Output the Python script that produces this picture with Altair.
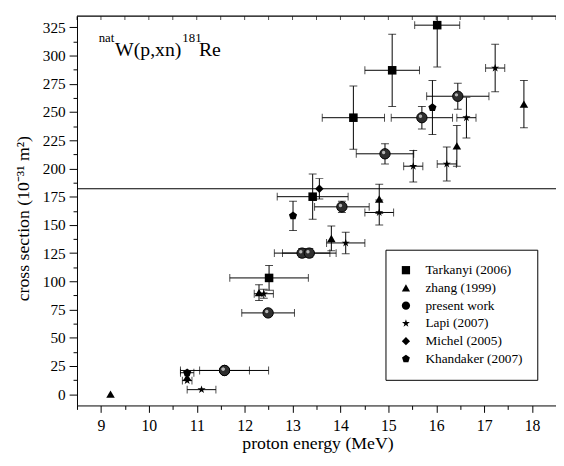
import altair as alt
import pandas as pd

FONT = "Liberation Serif"

series_names = ["Tarkanyi (2006)", "zhang (1999)", "present work",
                "Lapi (2007)", "Michel (2005)", "Khandaker (2007)"]

# Tarkanyi (2006) - squares
tark_E = [12.51, 13.42, 14.27, 15.08, 16.02]
tark_v = [103, 175, 245, 287, 327]
tark_xe = [0.82, 0.74, 0.65, 0.57, 0.47]
tark_ye = [11, 20, 28, 32, 37]

# zhang (1999) - triangles
zhang_E = [9.2, 10.8, 12.3, 13.81, 14.81, 16.43, 17.83]
zhang_v = [0, 15, 90, 138, 173, 220, 257]
zhang_xe = [0, 0, 0, 0, 0, 0, 0]
zhang_ye = [0, 0, 7, 11, 13, 18, 21]

# present work - circles
pw_E = [11.58, 11.58, 12.49, 13.2, 13.35, 14.03, 14.93, 15.7, 16.45]
pw_v = [21, 21, 72, 125, 125, 166, 213, 245, 264]
pw_xe = [0.92, 0.52, 0.55, 0.58, 0.56, 0.57, 0.6, 0.64, 0.65]
pw_ye = [2, 2, 3, 4, 4, 5, 9, 10, 11.5]

# Lapi (2007) - stars
lapi_E = [10.8, 11.1, 12.4, 14.11, 14.81, 15.52, 16.22, 16.63, 17.23]
lapi_v = [12, 4, 89, 134, 161, 202, 204, 245, 289]
lapi_xe = [0.1, 0.3, 0.2, 0.4, 0.3, 0.2, 0.2, 0.2, 0.2]
lapi_ye = [0, 0, 4, 9.5, 11, 14, 15, 18, 21]

# Michel (2005) - diamonds
michel_E = [13.56]
michel_v = [182]
michel_xe = [0]
michel_ye = [9]

# Khandaker (2007) - pentagons
khan_E = [10.8, 13.01, 15.92]
khan_v = [19, 158, 254]
khan_xe = [0.14, 0, 0]
khan_ye = [0, 13, 24]

hline_value = [182]

x_ticks = [8.5 + 0.5 * i for i in range(21)]
y_ticks = [12.5 * i for i in range(27)]

STAR = ("M0,-1 L0.2245,-0.309 L0.951,-0.309 L0.363,0.118 L0.588,0.809 "
        "L0,0.382 L-0.588,0.809 L-0.363,0.118 L-0.951,-0.309 L-0.2245,-0.309 Z")
PENT = "M0,-1 L0.951,-0.309 L0.588,0.809 L-0.588,0.809 L-0.951,-0.309 Z"
shapes = ["square", "triangle-up", "circle", STAR, "diamond", PENT]

rows = []
for name, E, V, XE, YE in [
    (series_names[0], tark_E, tark_v, tark_xe, tark_ye),
    (series_names[1], zhang_E, zhang_v, zhang_xe, zhang_ye),
    (series_names[2], pw_E, pw_v, pw_xe, pw_ye),
    (series_names[3], lapi_E, lapi_v, lapi_xe, lapi_ye),
    (series_names[4], michel_E, michel_v, michel_xe, michel_ye),
    (series_names[5], khan_E, khan_v, khan_xe, khan_ye),
]:
    for e, v, xe, ye in zip(E, V, XE, YE):
        rows.append(dict(series=name, E=e, v=v, xe=xe, ye=ye,
                         xlo=e - xe, xhi=e + xe, ylo=v - ye, yhi=v + ye))
df = pd.DataFrame(rows)

xs = alt.Scale(domain=[8.5, 18.5], nice=False, zero=False)
ys = alt.Scale(domain=[-10, 335], nice=False, zero=False)

common_axis = dict(domainColor="black", tickColor="black", labelColor="black",
                   labelFont=FONT, titleFont=FONT, titleFontWeight="normal",
                   titleColor="black", grid=False, domainWidth=1, tickWidth=1,
                   labelOverlap=False, labelFlush=False)

xaxis = alt.Axis(values=x_ticks,
                 labelExpr="datum.value % 1 === 0 ? format(datum.value, 'd') : ''",
                 tickSize={"condition": {"test": "datum.value % 1 === 0", "value": 7}, "value": 4},
                 labelFontSize=16, labelPadding=5,
                 title="proton energy (MeV)", titleFontSize=18,
                 titleX=244, titleY=44, titleBaseline="alphabetic", titleAlign="center",
                 **common_axis)
yaxis = alt.Axis(values=y_ticks,
                 labelExpr="datum.value % 25 === 0 ? format(datum.value, 'd') : ''",
                 tickSize={"condition": {"test": "datum.value % 25 === 0", "value": 8}, "value": 4},
                 labelFontSize=15.5, labelPadding=4,
                 title="cross section (10⁻³¹ m²)", titleFontSize=18,
                 titleX=-49, titleY=205, titleAngle=270, titleBaseline="alphabetic",
                 titleAlign="center", **common_axis)


def X(field):
    return alt.X(field, scale=xs, axis=xaxis)


def Y(field):
    return alt.Y(field, scale=ys, axis=yaxis)


base = alt.Chart(df)

hline = alt.Chart(pd.DataFrame({"h": hline_value})).mark_rule(
    color="black", strokeWidth=1.2).encode(y=Y("h:Q"))

top_frame = alt.Chart(pd.DataFrame({"h": [0]})).mark_rule(
    color="black", strokeWidth=1.2).encode(y=alt.value(0))

top_ticks = alt.Chart(pd.DataFrame({"t": x_ticks})).mark_tick(
    orient="vertical", color="black", size=4, thickness=1).encode(
    x=X("t:Q"), y=alt.value(2))

xb = base.transform_filter("datum.xe > 0")
xbars = xb.mark_rule(color="black", strokeWidth=1, clip=True).encode(
    x=X("xlo:Q"), x2="xhi:Q", y=Y("v:Q"))
xcap_lo = xb.mark_tick(orient="vertical", color="black", size=8, thickness=1,
                       clip=True).encode(x=X("xlo:Q"), y=Y("v:Q"))
xcap_hi = xb.mark_tick(orient="vertical", color="black", size=8, thickness=1,
                       clip=True).encode(x=X("xhi:Q"), y=Y("v:Q"))

yb = base.transform_filter("datum.ye > 0")
ybars = yb.mark_rule(color="black", strokeWidth=1, clip=True).encode(
    x=X("E:Q"), y=Y("ylo:Q"), y2="yhi:Q")
ycap_lo = yb.mark_tick(orient="horizontal", color="black", size=8, thickness=1,
                       clip=True).encode(x=X("E:Q"), y=Y("ylo:Q"))
ycap_hi = yb.mark_tick(orient="horizontal", color="black", size=8, thickness=1,
                       clip=True).encode(x=X("E:Q"), y=Y("yhi:Q"))

points = base.mark_point(filled=True, opacity=1, color="black", size=75).encode(
    x=X("E:Q"),
    y=Y("v:Q"),
    shape=alt.Shape("series:N", scale=alt.Scale(domain=series_names, range=shapes),
                    legend=alt.Legend(title=None, orient="none", legendX=313, legendY=237,
                                      strokeColor="black", fillColor="white", padding=14,
                                      labelFont=FONT, labelFontSize=13.5, labelColor="black",
                                      symbolSize=70, symbolFillColor="black",
                                      symbolStrokeColor="black", symbolStrokeWidth=0,
                                      rowPadding=3, labelOffset=13, cornerRadius=0)),
)

pw_big = base.transform_filter(alt.datum.series == "present work").mark_circle(
    color="#2e2e2e", size=110, opacity=1, stroke="black", strokeWidth=1).encode(
    x=X("E:Q"), y=Y("v:Q"))

highlight = base.transform_filter(alt.datum.series == "present work").mark_circle(
    color="#b5b5b5", size=12, opacity=1, xOffset=-1.4, yOffset=-1.4).encode(
    x=X("E:Q"), y=Y("v:Q"))

# reaction label
big_text = ["W(p,xn)", "Re"]
big_x = [9.296, 11.045]
big_y = [300, 300]
sup_text = ["nat", "181"]
sup_x = [8.953, 10.70]
sup_y = [311.7, 311.7]

label_big = alt.Chart(pd.DataFrame({"t": big_text, "x": big_x, "y": big_y})).mark_text(
    font=FONT, fontSize=20, align="left", baseline="alphabetic", color="black").encode(
    x=X("x:Q"), y=Y("y:Q"), text="t:N")
label_sup = alt.Chart(pd.DataFrame({"t": sup_text, "x": sup_x, "y": sup_y})).mark_text(
    font=FONT, fontSize=13, align="left", baseline="alphabetic", color="black").encode(
    x=X("x:Q"), y=Y("y:Q"), text="t:N")

chart = alt.layer(hline, top_frame, top_ticks, xbars, xcap_lo, xcap_hi,
                  ybars, ycap_lo, ycap_hi, points, pw_big, highlight,
                  label_big, label_sup).properties(
    width=486, height=395,
    autosize=alt.AutoSizeParams(type="none"),
    padding={"left": 70, "top": 5, "right": 0, "bottom": 45},
    background="white",
).configure(font=FONT).configure_view(stroke=None).configure_axis(
    labelFont=FONT, titleFont=FONT
).configure_legend(
    labelFont=FONT
).configure_text(font=FONT)

chart.save("out.html", embed_options={"renderer": "svg", "actions": False})
